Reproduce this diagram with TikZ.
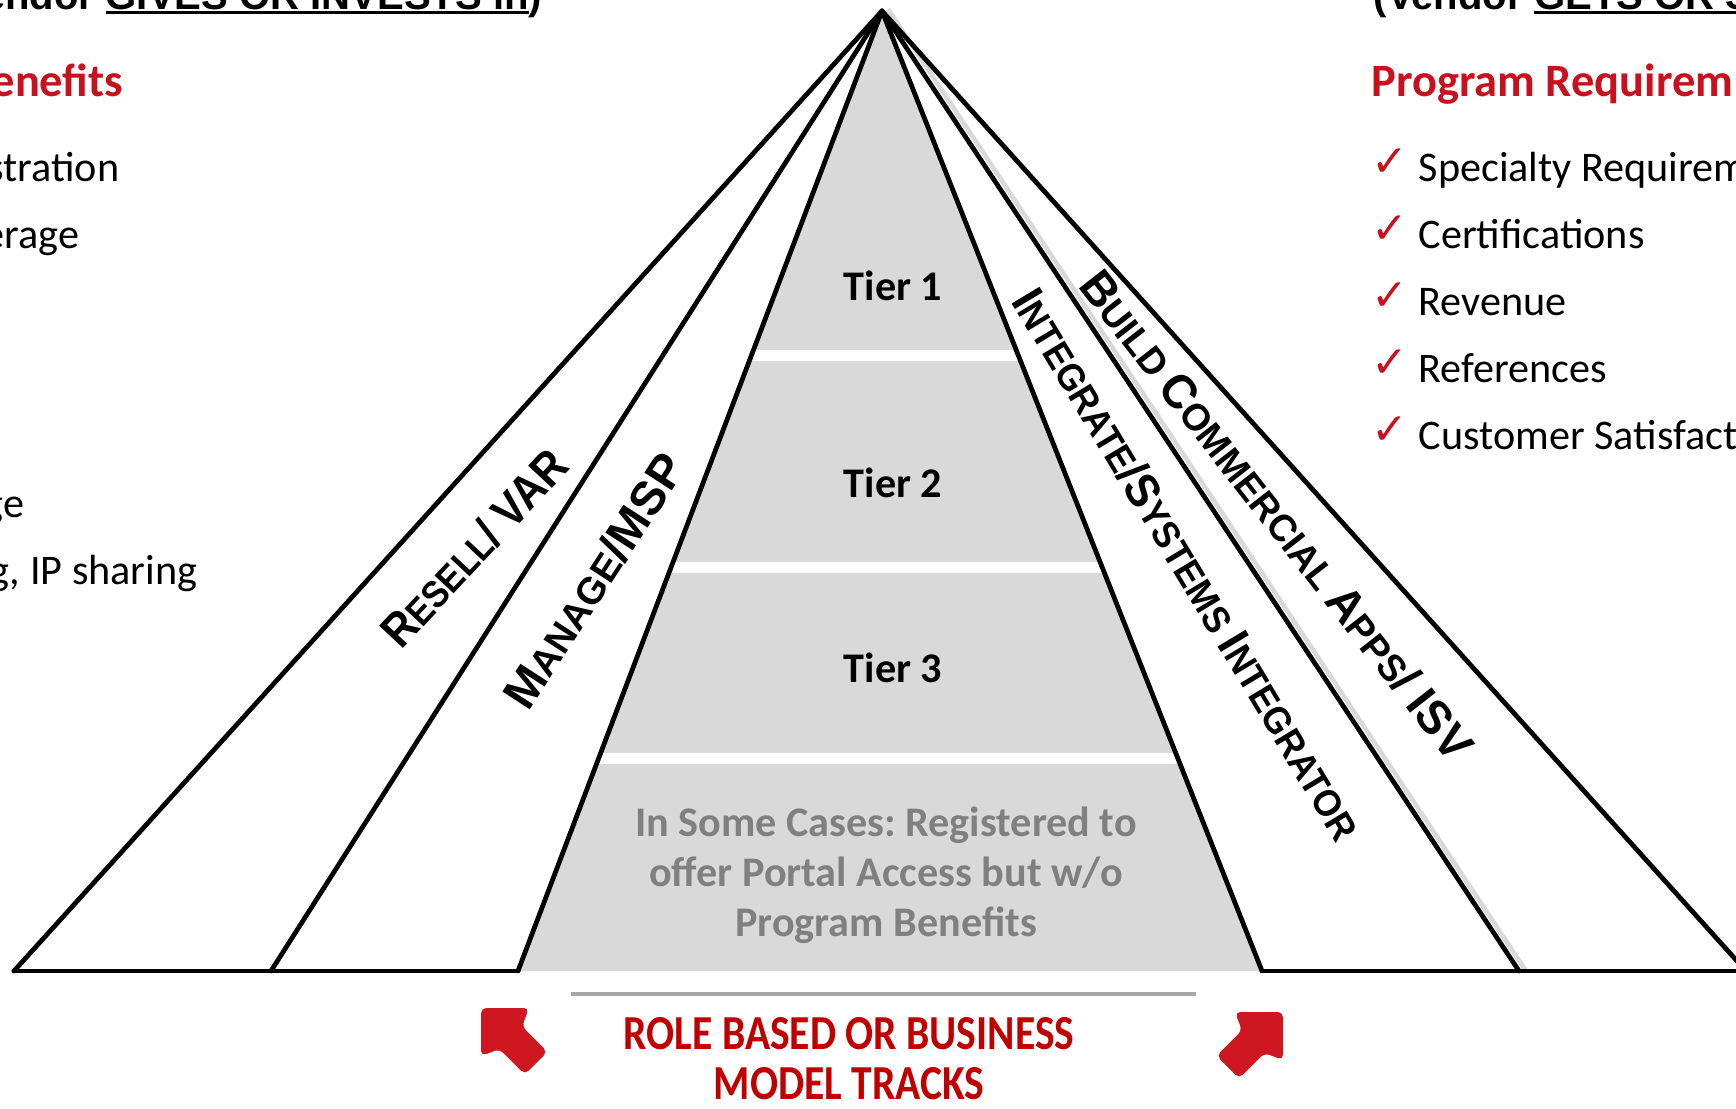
\documentclass[tikz,border=0pt]{standalone}
\usepackage{fontspec}
\setmainfont{Carlito}
\newfontfamily\arialfont{Liberation Sans}
\newfontfamily\tickglyphs{DejaVu Sans}
\usepackage{tikz}
\usetikzlibrary{positioning}
\frenchspacing

\definecolor{tiergrey}{RGB}{217,217,217}
\definecolor{notegrey}{RGB}{128,128,128}
\definecolor{rulegrey}{RGB}{166,166,166}
\definecolor{headred}{RGB}{200,16,30}
\definecolor{trackred}{RGB}{192,0,0}
\definecolor{arrowred}{RGB}{206,23,33}

% big letter for the hand made small caps
\newcommand{\trackcap}[1]{{\fontsize{13.5}{16}\selectfont #1}}
% heavier underline for the column titles
\newcommand{\thickul}[1]{\sbox0{#1}\rlap{\rule[-1.5pt]{\wd0}{0.8pt}}\usebox0}

\tikzset{
  edge/.style={line width=1.35pt, line cap=round, line join=round},
  tier/.style={font=\bfseries\fontsize{12}{14.2}\selectfont},
  track/.style={font=\arialfont\bfseries\fontsize{10.8}{13}\selectfont, inner sep=0pt},
  listitem/.style={font=\fontsize{12}{14}\selectfont, inner sep=0pt},
  heading/.style={font=\bfseries\fontsize{13.2}{16}\selectfont, text=headred, inner sep=0pt},
  tick/.style={font=\tickglyphs\fontsize{12.5}{14}\selectfont, text=headred, inner sep=0pt},
  title/.style={font=\arialfont\bfseries\fontsize{11.4}{14}\selectfont, inner sep=0pt},
  redarrow/.style={fill=arrowred, rounded corners=1.5pt},
}

\begin{document}
\begin{tikzpicture}[x=0.01cm, y=-0.01cm]
  \useasboundingbox (0,0) rectangle (1736,1109);
  \clip (0,0) rectangle (1736,1109);

  % pyramid corners
  \coordinate (apex) at (882,11);
  \coordinate (bl1) at (14,971);
  \coordinate (bl2) at (271,971);
  \coordinate (bl3) at (518,971);
  \coordinate (br3) at (1262,971);
  \coordinate (br2) at (1519,971);
  \coordinate (br1) at (1746,971);

  % grey tiers
  \fill[tiergrey] (apex) -- (bl3) -- (br3) -- cycle;
  \foreach \y in {350,562,753}
    \fill[white] (300,\y) rectangle (1500,\y+11);

  % shadow of the ISV edge
  \draw[tiergrey, line width=1.3pt] (888,9) -- (1526,971);

  \foreach \p in {bl1,bl2,bl3,br3,br2,br1}
    \draw[edge] (apex) -- (\p);
  \draw[edge] (bl1) -- (bl3);
  \draw[edge] (br3) -- (br1);

  \node[tier] (tier1) at (893,286) {Tier 1};
  \node[tier] (tier2) at (893,483) {Tier 2};
  \node[tier] (tier3) at (893,668) {Tier 3};
  \node[tier, text=notegrey, align=center] (portal) at (886,875)
    {In Some Cases: Registered to\\offer Portal Access but w/o\\Program Benefits};

  % tracks
  \node[track, rotate=47, xscale=0.89] (resell) at (474,548) {\trackcap{R}ESELL\trackcap{/ VAR}};
  \node[track, rotate=57] (manage) at (594,581) {\trackcap{M}ANAGE\trackcap{/MSP}};
  \node[track, rotate=-59, xscale=0.93] (integrate) at (1188,564)
    {\trackcap{I}NTEGRATE\trackcap{/S}YSTEMS \trackcap{I}NTEGRATOR};
  \node[track, rotate=-52, xscale=0.97] (build) at (1277,515)
    {\trackcap{B}UILD \trackcap{C}OMMERCIAL \trackcap{A}PPS\trackcap{/ ISV}};

  % left column
  \node[title, anchor=base east] (gives) at (543,9) {endor \thickul{GIVES OR INVESTS in})};
  \node[heading, anchor=base east] (benefits) at (124,97) {enefits};
  \node[listitem, anchor=base east] (ben1) at (120,181) {stration};
  \node[listitem, anchor=base east] (ben2) at (80,248) {erage};
  \node[listitem, anchor=base east] (ben5) at (25,517) {ge};
  \node[listitem, anchor=base east] (ben6) at (198,584) {g, IP sharing};

  % right column
  \node[title, anchor=base west] (gets) at (1373,9) {(Vendor \thickul{GETS OR S}};
  \node[heading, anchor=base west] (reqs) at (1371,97) {Program Requirem};
  \foreach \t [count=\i] in {Specialty Requirem, Certifications, Revenue, References, Customer Satisfact} {
    \node[tick, anchor=base west] (tick\i) at (1371,109+67*\i) {✓};
    \node[listitem, anchor=base west] (req\i) at (1418,114+67*\i) {\t};
  }

  % bottom
  \draw[rulegrey, line width=0.9pt] (571,994) -- (1196,994);
  \node[font=\bfseries\fontsize{13.9}{14.2}\selectfont, text=trackred, align=center, xscale=0.85]
    (tracks) at (849,1059) {ROLE BASED OR BUSINESS\\MODEL TRACKS};
  \fill[redarrow, shift={(481,1008)}, rotate=135]
    (0,0) -- (-34,-34) -- (-42,-16) -- (-78,-16) -- (-78,16) -- (-42,16) -- (-34,34) -- cycle;
  \fill[redarrow, shift={(1283,1012)}, rotate=45]
    (0,0) -- (-34,-34) -- (-42,-16) -- (-78,-16) -- (-78,16) -- (-42,16) -- (-34,34) -- cycle;
\end{tikzpicture}
\end{document}
